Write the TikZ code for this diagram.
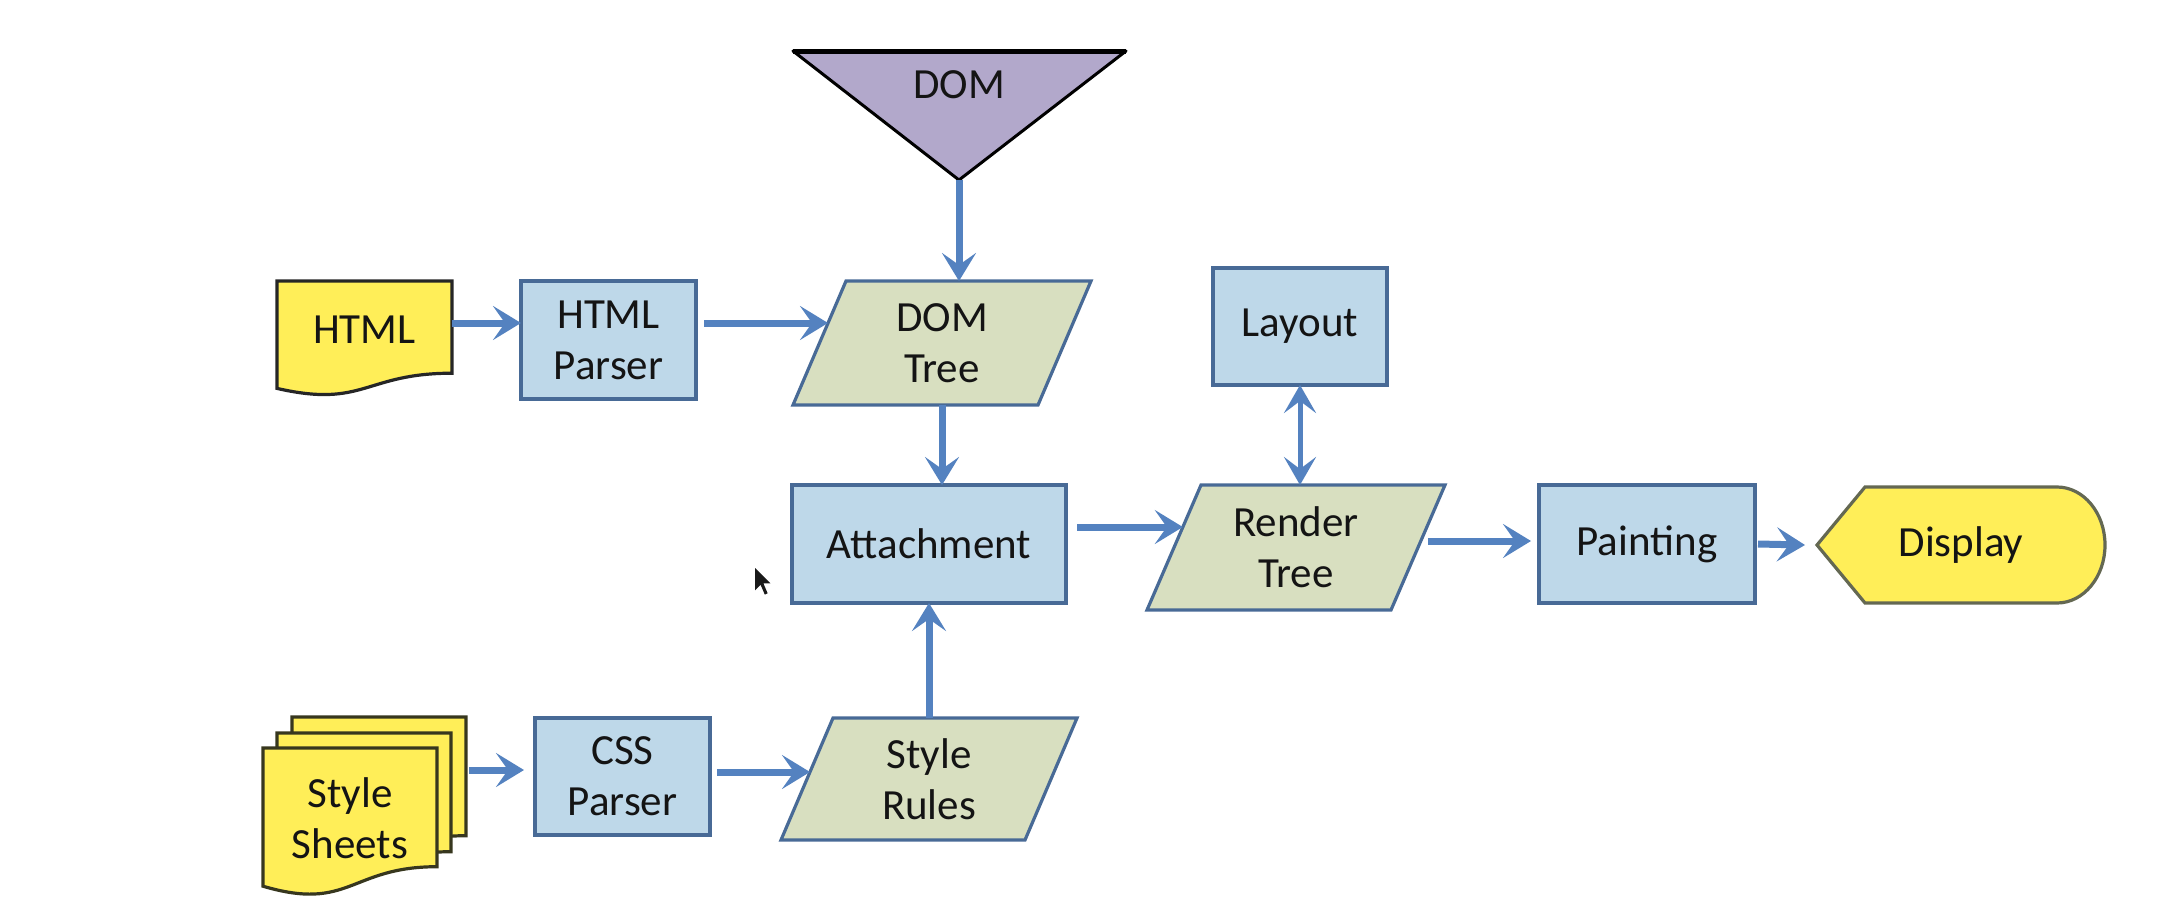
\documentclass[tikz,border=0pt]{standalone}
\usepackage{fontspec}
\setmainfont{Carlito}
\usetikzlibrary{arrows.meta,calc}
\pgfdeclarelayer{bg}
\pgfsetlayers{bg,main}
\definecolor{boxfill}{RGB}{190,216,233}
\definecolor{boxline}{RGB}{72,106,150}
\definecolor{parafill}{RGB}{216,223,192}
\definecolor{yel}{RGB}{255,238,88}
\definecolor{yelline}{RGB}{55,55,30}
\definecolor{displine}{RGB}{100,104,82}
\definecolor{domfill}{RGB}{178,168,203}
\definecolor{arrowblue}{RGB}{84,130,192}
\definecolor{txt}{RGB}{20,20,20}
\begin{document}
\begin{tikzpicture}[x=0.5pt,y=-0.5pt,
  every node/.style={font=\fontsize{21.5}{25.5}\selectfont, text=txt, align=center, inner sep=0pt, outer sep=0pt},
  bluebox/.style={draw=boxline, fill=boxfill, line width=1.6pt},
  para/.style={draw=boxline, fill=parafill, line width=1.6pt},
  docshape/.style={draw=yelline, fill=yel, line width=1.6pt},
  arr/.style={draw=arrowblue, line width=3.5pt, -{Stealth[length=14pt,width=17pt,inset=6pt]}},
  darr/.style={draw=arrowblue, line width=2.5pt, {Stealth[length=14pt,width=16pt,inset=6pt]}-{Stealth[length=14pt,width=16pt,inset=6pt]}},
]
\useasboundingbox (0,0) rectangle (2174,900);

% boxes
\node[bluebox, minimum width=87.5pt, minimum height=59pt] (htmlparser) at (608.5,340) {HTML\\Parser};
\node[bluebox, minimum width=137pt, minimum height=59pt] (attachment) at (929,544) {Attachment};
\node[bluebox, minimum width=87pt, minimum height=58.5pt] (layout) at (1300,326.5) {Layout};
\node[bluebox, minimum width=108pt, minimum height=59pt] (painting) at (1647,544) {Painting};
\node[bluebox, minimum width=87.5pt, minimum height=58.5pt] (cssparser) at (622.5,776.5) {CSS\\Parser};

% parallelogram texts
\node[minimum width=149pt, minimum height=62pt] (domtree) at (942,343) {DOM\\Tree};
\node[minimum width=149pt, minimum height=62.5pt] (rendertree) at (1296,547.5) {Render\\Tree};
\node[minimum width=148pt, minimum height=61pt] (stylerules) at (929,779) {Style\\Rules};

% other texts
\node[minimum width=144pt, minimum height=58pt] (display) at (1961,545) {Display};
\node (dom) at (959,85) {DOM};
\coordinate (domtip) at (959,180);
\node[minimum width=87.5pt, minimum height=46pt] (html) at (364.5,330) {HTML};
\node[minimum width=87pt] (stylesheets) at (350,818) {Style\\Sheets};

\begin{pgfonlayer}{bg}
  \foreach \n/\s in {domtree/26.5pt, rendertree/27pt, stylerules/26pt} {
    \path[para] (\n.south west) -- ([xshift=-\s]\n.south east) -- (\n.north east) -- ([xshift=\s]\n.north west) -- cycle;
  }
  \path[draw=displine, fill=yel, line width=1.6pt] (display.west) -- ([xshift=24pt]display.north west) -- ([xshift=-24pt]display.north east)
     arc[start angle=90, end angle=-90, x radius=24pt, y radius=29pt] -- ([xshift=24pt]display.south west) -- cycle;
  \path[draw=black, fill=domfill, line width=1.5pt, line join=round] (793,51) -- (1126,51) -- (domtip) -- cycle;
  \path[draw=black, line width=2.5pt] (793,51) -- (1126,51);
  \path[docshape, draw=black!85] (277,281) -- (452,281) -- (452,373.2) .. controls (364.5,373.2) and (364.5,408.4) .. (277,388.4) -- cycle;
  \path[docshape] (292,717) -- (466,717) -- (466,835.7) .. controls (379,835.7) and (379,880.9) .. (292,855.2) -- cycle;
  \path[docshape] (277,733) -- (451,733) -- (451,851.7) .. controls (364,851.7) and (364,896.9) .. (277,871.2) -- cycle;
  \path[docshape] (263,748) -- (437,748) -- (437,866.7) .. controls (350,866.7) and (350,911.9) .. (263,886.2) -- cycle;
\end{pgfonlayer}

% connectors
\draw[arr] ([yshift=3.5pt]html.east) -- ([yshift=8.5pt]htmlparser.west);
\draw[arr] ([xshift=4pt,yshift=8.5pt]htmlparser.east) -- ([xshift=17.5pt,yshift=10pt]domtree.west);
\draw[arr] (domtip) -- (domtip |- domtree.north);
\draw[arr] (domtree.south) -- (domtree.south |- attachment.north);
\draw[arr] (stylerules.north) -- (attachment.south);
\draw[arr] ([xshift=5.5pt,yshift=8.5pt]attachment.east) -- ([xshift=17.9pt,yshift=10.25pt]rendertree.west);
\draw[darr] (layout.south) -- (layout.south |- rendertree.north);
\draw[arr] ([xshift=-8.5pt,yshift=3.25pt]rendertree.east) -- ([xshift=-4pt,yshift=1.5pt]painting.west);
\draw[arr] ([xshift=1.5pt]painting.east) -- ([xshift=-6pt]display.west);
\draw[arr] ([xshift=16pt,yshift=24pt]stylesheets.east) -- ([xshift=-5.5pt,yshift=3.25pt]cssparser.west);
\draw[arr] ([xshift=3.5pt,yshift=2.25pt]cssparser.east) -- ([xshift=14.5pt,yshift=3.5pt]stylerules.west);

% mouse cursor
\fill[black!90] (755,568) -- ++(0,22.4) -- ++(5.6,-5.6) -- ++(4.2,9.8) -- ++(2.8,-1.4) -- ++(-4.2,-9.8) -- ++(7,0) -- cycle;
\end{tikzpicture}
\end{document}
